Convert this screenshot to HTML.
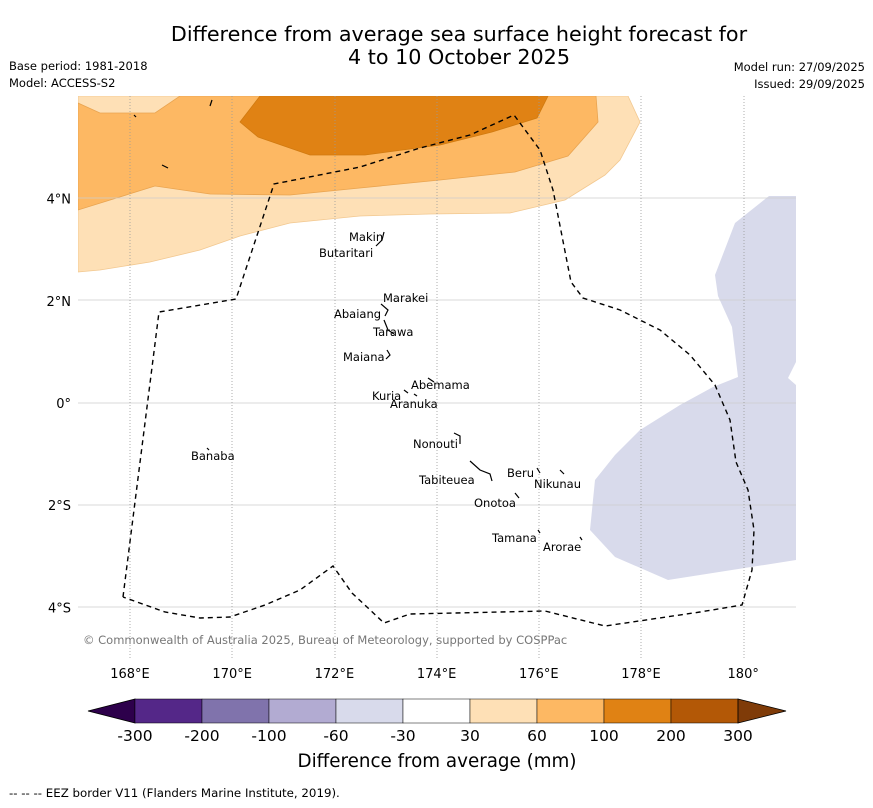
<!DOCTYPE html>
<html><head><meta charset="utf-8">
<style>
html,body{margin:0;padding:0;background:#fff;}
body{width:873px;height:804px;overflow:hidden;font-family:"DejaVu Sans","Liberation Sans",sans-serif;}
svg text{font-family:"DejaVu Sans","Liberation Sans",sans-serif;}
</style></head>
<body>
<svg id="chart" width="873" height="804" viewBox="0 0 873 804" xmlns="http://www.w3.org/2000/svg">
<text x="459" y="41" font-size="20.7" text-anchor="middle" fill="#000">Difference from average sea surface height forecast for</text>
<text x="459" y="64" font-size="20.7" text-anchor="middle" fill="#000">4 to 10 October 2025</text>
<text x="9" y="70" font-size="11.5">Base period: 1981-2018</text>
<text x="9" y="87" font-size="11.5">Model: ACCESS-S2</text>
<text x="865" y="71" font-size="11.5" text-anchor="end">Model run: 27/09/2025</text>
<text x="865" y="88" font-size="11.5" text-anchor="end">Issued: 29/09/2025</text>
<defs><clipPath id="mapclip"><rect x="78" y="96" width="718" height="562"/></clipPath></defs>
<g clip-path="url(#mapclip)">
<rect x="78" y="96" width="718" height="562" fill="#fff"/>
<polygon fill="#fee0b6" stroke="#f2c890" stroke-width="0.8" points="78,96 78,272 100,270 150,262 200,250 240,236 290,223 360,216 430,214 510,213 565,200 605,175 620,160 640,122 628,96"/>
<polygon fill="#fdb863" stroke="#e9a450" stroke-width="0.8" points="78,103 100,113 155,113 180,96 596,96 598,122 568,156 515,172 440,180 360,188 290,195 210,194 155,186 78,210"/>
<polygon fill="#e08214" stroke="#d07a10" stroke-width="0.8" points="260,96 240,122 258,137 310,155 365,155 440,145 492,132 537,118 548,96"/>
<polygon fill="#d8daeb" points="769,196 796,196 796,362 788,378 796,385 796,560 668,580 615,557 590,530 595,480 615,455 640,430 680,405 713,387 738,377 732,327 718,296 715,275 735,223"/>
<g stroke="#999" stroke-width="0.8">
<line x1="78" y1="198" x2="796" y2="198" stroke="#ccc"/>
<line x1="78" y1="300" x2="796" y2="300" stroke="#ccc"/>
<line x1="78" y1="403" x2="796" y2="403" stroke="#ccc"/>
<line x1="78" y1="505" x2="796" y2="505" stroke="#ccc"/>
<line x1="78" y1="607" x2="796" y2="607" stroke="#ccc"/>
<g stroke-dasharray="1,2">
<line x1="130" y1="96" x2="130" y2="658"/><line x1="232" y1="96" x2="232" y2="658"/>
<line x1="335" y1="96" x2="335" y2="658"/><line x1="437" y1="96" x2="437" y2="658"/>
<line x1="539" y1="96" x2="539" y2="658"/><line x1="641" y1="96" x2="641" y2="658"/>
<line x1="744" y1="96" x2="744" y2="658"/>
</g></g>
<polyline fill="none" stroke="#000" stroke-width="1.4" stroke-dasharray="5,4" points="123,597 159,312 236,299 274,184 360,167 420,148 470,135 514,115 540,150 553,190 571,282 583,298 620,310 660,330 690,355 715,385 730,420 736,462 748,490 754,530 752,570 742,605 700,612 605,626 545,611 410,614 384,623 352,593 333,566 300,590 265,605 230,617 200,618 165,612 123,597"/>
<g font-size="11.5" fill="#000">
<text x="349" y="241">Makin</text><text x="319" y="257">Butaritari</text>
<text x="383" y="302">Marakei</text><text x="334" y="318">Abaiang</text>
<text x="373" y="336">Tarawa</text><text x="343" y="361">Maiana</text>
<text x="411" y="389">Abemama</text><text x="372" y="400">Kuria</text>
<text x="390" y="408">Aranuka</text><text x="413" y="448">Nonouti</text>
<text x="191" y="460">Banaba</text><text x="507" y="477">Beru</text>
<text x="534" y="488">Nikunau</text><text x="419" y="484">Tabiteuea</text>
<text x="474" y="507">Onotoa</text><text x="492" y="542">Tamana</text>
<text x="543" y="551">Arorae</text>
</g>
<g fill="none" stroke="#000" stroke-width="1.2">
<path d="M384,232 L382,240 L376,246"/><path d="M381,304 L388,310 L385,316"/><path d="M384,320 L388,330 L394,334"/>
<path d="M387,350 L390,355 L386,359"/><path d="M428,378 L434,382"/><path d="M404,390 L408,393"/><path d="M414,394 L417,396"/>
<path d="M454,433 L460,436 L460,444"/><path d="M470,461 L480,470 L490,474 L492,481"/><path d="M537,468 L540,473"/>
<path d="M560,470 L564,474"/><path d="M515,493 L519,498"/><path d="M538,530 L540,533"/><path d="M580,537 L582,540"/>
<path d="M207,448 L209,450"/><path d="M134,115 L136,117"/><path d="M162,165 L168,168"/><path d="M212,100 L210,106"/>
</g>
<text x="83" y="644" font-size="11.5" fill="#777">© Commonwealth of Australia 2025, Bureau of Meteorology, supported by COSPPac</text>
</g>
<g id="yaxis" font-size="13" text-anchor="end"></g>
<g id="xaxis" font-size="13" text-anchor="middle"></g>
<g id="colorbar"></g>
<text x="437" y="767" font-size="18.3" text-anchor="middle">Difference from average (mm)</text>
<text x="9" y="797" font-size="11.8">--  --  -- EEZ border V11 (Flanders Marine Institute, 2019).</text>
</svg>
<script>
const latTicks=[4,2,0,-2,-4];
const latLabels=["4°N","2°N","0°","2°S","4°S"];
const lonTicks=[168,170,172,174,176,178,180];
const lonLabels=["168°E","170°E","172°E","174°E","176°E","178°E","180°"];
const cbLabels=["-300","-200","-100","-60","-30","30","60","100","200","300"];
const cbColors=["#542788","#8073ac","#b2abd2","#d8daeb","#ffffff","#fee0b6","#fdb863","#e08214","#b35806"];
const NS="http://www.w3.org/2000/svg";
function yScale(lat){return 403-lat*51.1;}
function xScale(lon){return 130+(lon-168)*51.1;}
const ya=document.getElementById('yaxis');
latTicks.forEach((v,i)=>{const t=document.createElementNS(NS,'text');


t.setAttribute('x',71);t.setAttribute('y',yScale(v)+5);t.textContent=latLabels[i];ya.appendChild(t);});
const xa=document.getElementById('xaxis');
lonTicks.forEach((v,i)=>{const t=document.createElementNS(NS,'text');


t.setAttribute('x',xScale(v));t.setAttribute('y',678);t.textContent=lonLabels[i];xa.appendChild(t);});
const cb=document.getElementById('colorbar');
const x0=135,w=67,y0=699,h=24;
const lt=document.createElementNS(NS,'polygon');


lt.setAttribute('points',`${x0},${y0} 88,${y0+h/2} ${x0},${y0+h}`);lt.setAttribute('fill','#2d004b');lt.setAttribute('stroke','#000');lt.setAttribute('stroke-width','0.8');cb.appendChild(lt);
cbColors.forEach((c,i)=>{const r=document.createElementNS(NS,'rect');


r.setAttribute('x',x0+i*w);r.setAttribute('y',y0);r.setAttribute('width',w);r.setAttribute('height',h);r.setAttribute('fill',c);r.setAttribute('stroke','#000');r.setAttribute('stroke-width','0.5');cb.appendChild(r);});
const xe=x0+cbColors.length*w;
const rt=document.createElementNS(NS,'polygon');


rt.setAttribute('points',`${xe},${y0} 786,${y0+h/2} ${xe},${y0+h}`);rt.setAttribute('fill','#7f3b08');rt.setAttribute('stroke','#000');rt.setAttribute('stroke-width','0.8');cb.appendChild(rt);
cbLabels.forEach((l,i)=>{const t=document.createElementNS(NS,'text');


t.setAttribute('x',x0+i*w);t.setAttribute('y',741);t.setAttribute('font-size','15.5');t.setAttribute('text-anchor','middle');t.textContent=l;cb.appendChild(t);});
</script>
</body></html>
